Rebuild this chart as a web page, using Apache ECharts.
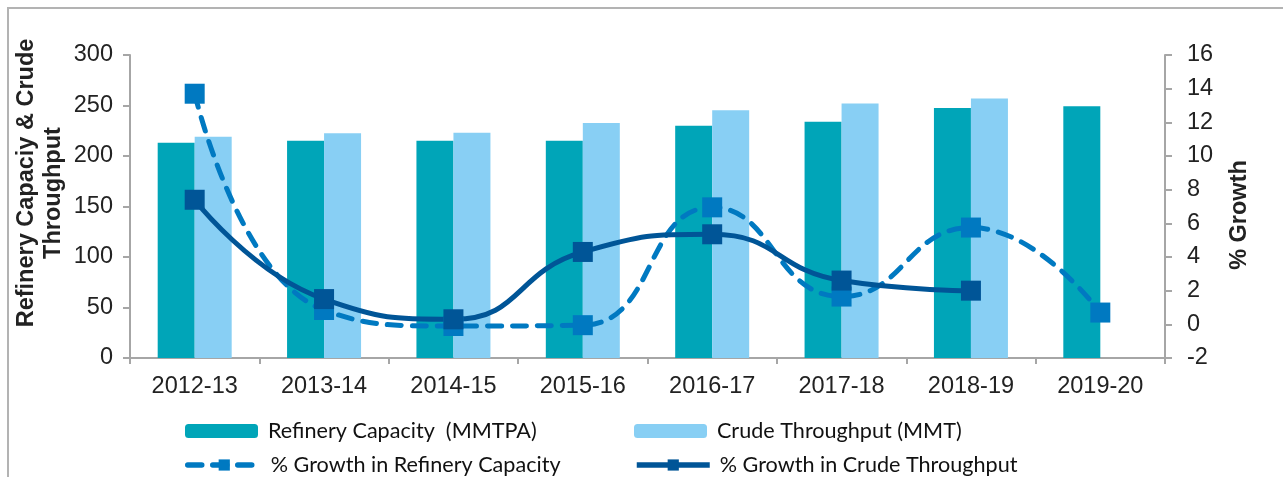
<!DOCTYPE html>
<html>
<head>
<meta charset="utf-8">
<script src="https://cdn.jsdelivr.net/npm/echarts@6/dist/echarts.min.js"></script>
<style>
    html, body {
        margin: 0;
        padding: 0;
        background: #fff;
        overflow: hidden;
    }
    #chart {
        position: absolute;
        left: 0;
        top: 0;
        width: 1283px;
        height: 477px;
    }
    #frame {
        position: absolute;
        left: 7px;
        top: 7px;
        width: 1320px;
        height: 520px;
        border: 2px solid #b3b3b3;
        pointer-events: none;
    }
</style>
</head>
<body>
<div id="chart"></div>
<div id="frame"></div>
<script>
// 数据
const years = ['2012-13', '2013-14', '2014-15', '2015-16', '2016-17', '2017-18', '2018-19', '2019-20']
const refineryCapacity = [213, 215, 215, 215, 230, 234, 247.6, 249.2]
const crudeThroughput = [219, 222.5, 223, 232.7, 245.4, 251.9, 257, null]
const growthCapacity = [13.7, 0.85, -0.1, -0.05, 6.95, 1.65, 5.75, 0.7]
const growthThroughput = [7.4, 1.5, 0.3, 4.3, 5.35, 2.6, 2.0, null]

// 颜色
const tealColor = '#00a5b8'
const lightColor = '#88cff4'
const dashColor = '#0079c1'
const solidColor = '#005597'
const axisColor = '#a6a6a6'
const textColor = '#222'

const labelFont = "'Liberation Sans', Arial, sans-serif"
const legendFont = "Lato, 'Open Sans', sans-serif"
const labelSize = 23.5

const legendText = {
    color: '#111',
    fontFamily: legendFont,
    fontSize: 21.6,
    padding: [0, 0, 0, 5]
}

function legendAt(name, left, top) {
    return {
        data: [name],
        left: left,
        top: top,
        padding: 0,
        itemWidth: 73,
        itemHeight: 14,
        textStyle: legendText,
        lineStyle: {width: 5.5},
        selectedMode: false
    }
}

function rotatedTitle(text, x, y) {
    return {
        type: 'text',
        x: x,
        y: y,
        rotation: Math.PI / 2,
        style: {
            text: text,
            fontFamily: labelFont,
            fontWeight: 'bold',
            fontSize: 23.5,
            fill: textColor,
            align: 'center',
            verticalAlign: 'middle'
        }
    }
}

let option = {
    animation: false,
    grid: {
        left: 130,
        right: 118,
        top: 55,
        bottom: 119
    },
    legend: [
        legendAt('Refinery Capacity  (MMTPA)', 185, 420),
        legendAt('Crude Throughput (MMT)', 634, 420),
        legendAt('% Growth in Refinery Capacity', 185, 454),
        legendAt('% Growth in Crude Throughput', 634, 454)
    ],
    graphic: [
        rotatedTitle('Refinery Capaciy & Crude', 27, 183),
        rotatedTitle('Throughput', 54, 193),
        rotatedTitle('% Growth', 1240, 215)
    ],
    xAxis: [
        {
            type: 'category',
            data: years,
            boundaryGap: true,
            axisLine: {
                lineStyle: {color: axisColor, width: 2}
            },
            axisTick: {
                show: true,
                interval: 0,
                length: 6,
                lineStyle: {color: axisColor, width: 2}
            },
            axisLabel: {
                interval: 0,
                margin: 17,
                color: textColor,
                fontFamily: labelFont,
                fontSize: labelSize
            }
        }
    ],
    yAxis: [
        {
            type: 'value',
            min: 0,
            max: 300,
            interval: 50,
            axisLine: {
                show: true,
                lineStyle: {color: axisColor, width: 2}
            },
            axisTick: {
                show: true,
                length: 7,
                lineStyle: {color: axisColor, width: 2}
            },
            splitLine: {show: false},
            axisLabel: {
                margin: 17,
                color: textColor,
                fontFamily: labelFont,
                fontSize: labelSize
            }
        },
        {
            type: 'value',
            min: -2,
            max: 16,
            interval: 2,
            position: 'right',
            axisLine: {
                show: true,
                lineStyle: {color: axisColor, width: 2}
            },
            axisTick: {
                show: true,
                length: 7,
                lineStyle: {color: axisColor, width: 2}
            },
            splitLine: {show: false},
            axisLabel: {
                margin: 22,
                color: textColor,
                fontFamily: labelFont,
                fontSize: labelSize
            }
        }
    ],
    series: [
        {
            name: 'Refinery Capacity  (MMTPA)',
            type: 'bar',
            data: refineryCapacity,
            barWidth: 37,
            barGap: 0,
            itemStyle: {color: tealColor},
            emphasis: {disabled: true}
        },
        {
            name: 'Crude Throughput (MMT)',
            type: 'bar',
            data: crudeThroughput,
            barWidth: 37,
            barGap: 0,
            itemStyle: {color: lightColor},
            emphasis: {disabled: true}
        },
        {
            name: '% Growth in Refinery Capacity',
            type: 'line',
            yAxisIndex: 1,
            data: growthCapacity,
            smooth: 0.5,
            symbol: 'rect',
            symbolSize: 20,
            lineStyle: {
                color: dashColor,
                width: 5,
                type: [14, 11],
                cap: 'round'
            },
            itemStyle: {color: dashColor},
            emphasis: {disabled: true}
        },
        {
            name: '% Growth in Crude Throughput',
            type: 'line',
            yAxisIndex: 1,
            data: growthThroughput,
            smooth: 0.5,
            symbol: 'rect',
            symbolSize: 20,
            lineStyle: {
                color: solidColor,
                width: 5
            },
            itemStyle: {color: solidColor},
            emphasis: {disabled: true}
        }
    ]
}

const myChart = echarts.init(document.getElementById('chart'))
myChart.setOption(option)
</script>
</body>
</html>
